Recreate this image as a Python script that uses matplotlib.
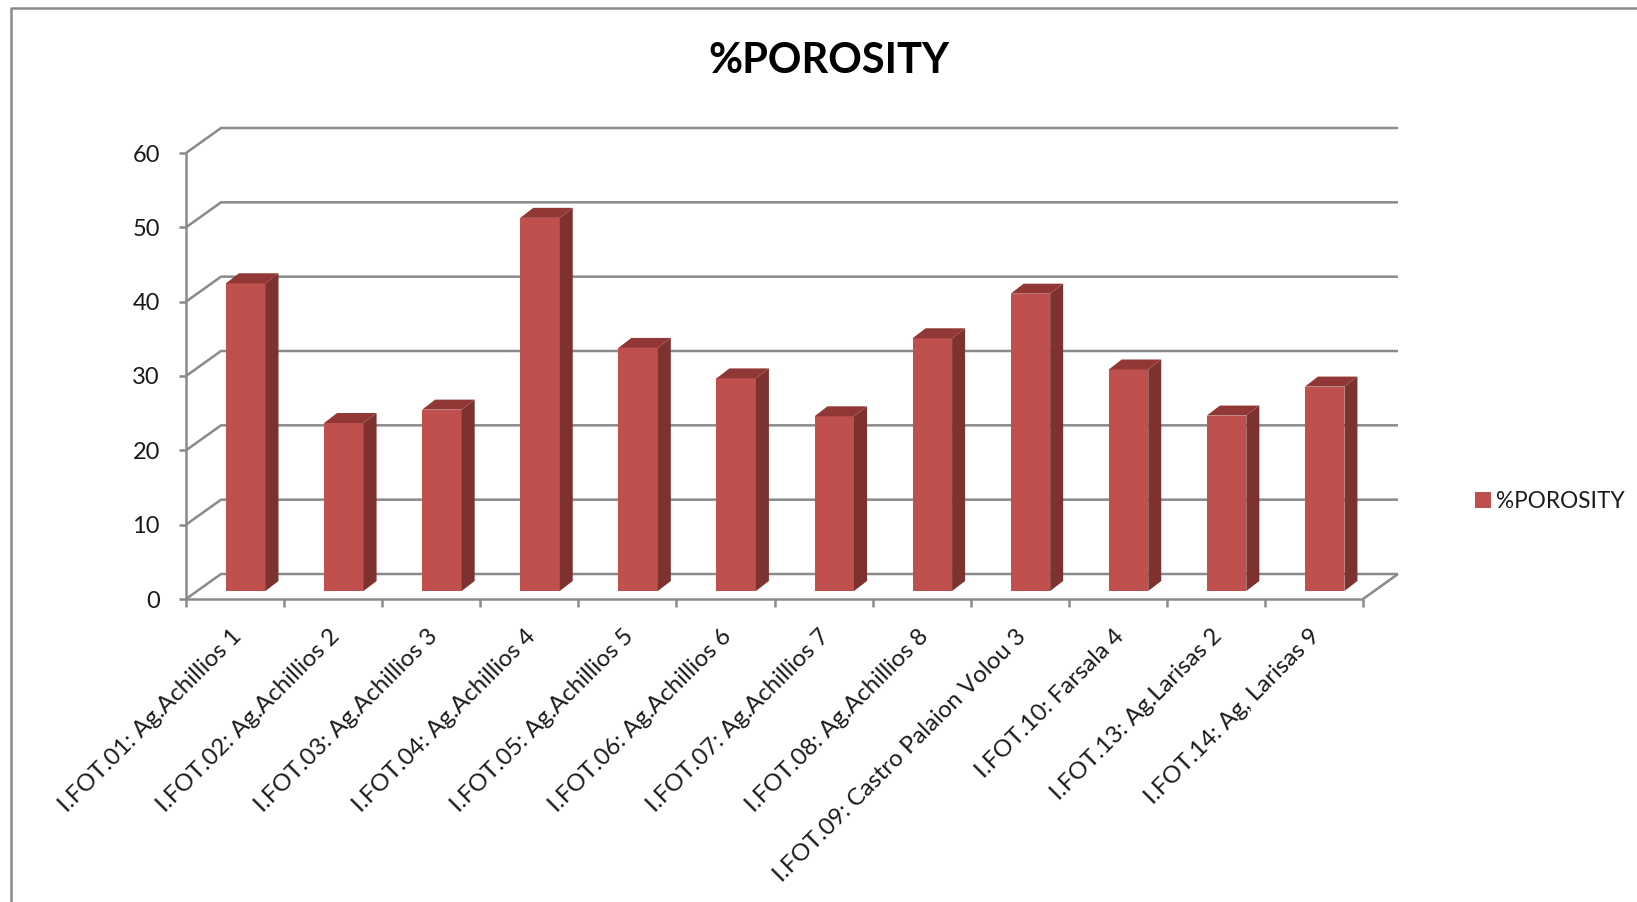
import matplotlib
matplotlib.use("Agg")
import matplotlib.pyplot as plt
from matplotlib.patches import Polygon, Patch
from matplotlib.lines import Line2D

plt.rcParams['font.family'] = ['Lato', 'DejaVu Sans']

sites = [
    "I.FOT.01: Ag.Achillios 1", "I.FOT.02: Ag.Achillios 2", "I.FOT.03: Ag.Achillios 3",
    "I.FOT.04: Ag.Achillios 4", "I.FOT.05: Ag.Achillios 5", "I.FOT.06: Ag.Achillios 6",
    "I.FOT.07: Ag.Achillios 7", "I.FOT.08: Ag.Achillios 8", "I.FOT.09: Castro Palaion Volou 3",
    "I.FOT.10: Farsala 4", "I.FOT.13: Ag.Larisas 2", "I.FOT.14: Ag, Larisas 9",
]
porosity = [41.4, 22.6, 24.4, 50.2, 32.7, 28.6, 23.5, 34.0, 40.0, 29.8, 23.6, 27.5]
y_ticks = [0, 10, 20, 30, 40, 50, 60]

W, H = 1637, 902
LEFT, RIGHT, BASE, TOP = 186, 1363, 599, 153

GREY = "#8A8A8A"
FRONT, SIDE, CAP = "#C0504D", "#7D3230", "#913836"
TEXT = "#1a1a1a"

fig = plt.figure(figsize=(W / 100, H / 100), dpi=100, facecolor="white")
ax = fig.add_axes([LEFT / W, 1 - BASE / H, (RIGHT - LEFT) / W, (BASE - TOP) / H])
ax.set_xlim(0, len(sites))
ax.set_ylim(0, 60)
ax.axis("off")

# sizes of the pseudo-3D projection, in data units
px_x = (RIGHT - LEFT) / len(sites)
px_y = (BASE - TOP) / 60
depth_x, depth_y = 35 / px_x, 25 / px_y
bar_w = 39.5 / px_x
bar_shift = 40 / px_x
bar_lift = 8 / px_y
side_x, side_y = 13 / px_x, 10 / px_y

line = dict(color=GREY, lw=1.8, clip_on=False, solid_capstyle="butt")

# back wall gridlines and the diagonals running to the front axis
for t in y_ticks:
    ax.plot([0, depth_x, len(sites) + depth_x], [t, t + depth_y, t + depth_y], **line)
    ax.annotate(str(t), (0, t), xytext=(-26, -2), textcoords="offset pixels",
                ha="right", va="center", fontsize=17, color=TEXT)
    ax.plot([0, -7 / px_x], [t, t], **line)

ax.plot([0, 0], [0, 60], **line)
ax.plot([0, len(sites)], [0, 0], **line)
ax.plot([len(sites), len(sites) + depth_x], [0, depth_y], **line)
for i in range(len(sites) + 1):
    ax.plot([i, i], [0, -8 / px_y], **line)

# columns: front face from the bar call, side and cap as projected polygons
lefts = [i + bar_shift for i in range(len(sites))]
ax.bar(lefts, porosity, width=bar_w, bottom=bar_lift, align="edge", color=FRONT,
       clip_on=False, zorder=3)
for x0, v in zip(lefts, porosity):
    x1 = x0 + bar_w
    top = v + bar_lift
    ax.add_patch(Polygon([(x1, bar_lift), (x1 + side_x, bar_lift + side_y),
                          (x1 + side_x, top + side_y), (x1, top)],
                         closed=True, fc=SIDE, ec="none", clip_on=False, zorder=3))
    ax.add_patch(Polygon([(x0, top), (x1, top), (x1 + side_x, top + side_y),
                          (x0 + side_x, top + side_y)],
                         closed=True, fc=CAP, ec="none", clip_on=False, zorder=3))

for i, name in enumerate(sites):
    ax.annotate(name, (i + 0.5, 0), xytext=(3, -34), textcoords="offset pixels",
                rotation=45, rotation_mode="anchor", ha="right", va="center",
                fontsize=17.3, color=TEXT, annotation_clip=False)

fig.text(829 / W, 1 - 61 / H, "%POROSITY", ha="center", va="center",
         fontsize=30, fontweight="bold", color="black")

fig.legend(handles=[Patch(facecolor=FRONT, label="%POROSITY")], loc="center left",
           bbox_to_anchor=(1475 / W, 1 - 501 / H), frameon=False, fontsize=16.3,
           labelcolor=TEXT, handlelength=0.72, handleheight=0.72, handletextpad=0.2,
           borderpad=0, borderaxespad=0)

# chart-area border, open past the right and bottom edges
fig.add_artist(Line2D([10.5 / W, 10.5 / W, 1], [0, 1 - 7.5 / H, 1 - 7.5 / H],
                      color=GREY, lw=1.8, transform=fig.transFigure))

fig.savefig("out.png", dpi=100)
